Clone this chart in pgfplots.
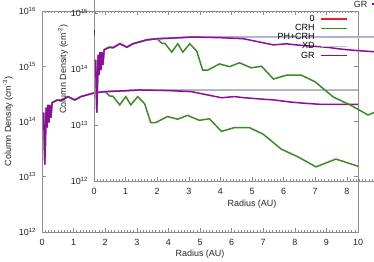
\documentclass[border=0pt]{standalone}
\usepackage{fontspec}
\setmainfont{Liberation Sans}
\usepackage{pgfplots}
\pgfplotsset{compat=1.18}
\usepackage{pgfplotstable}

\definecolor{cred}{HTML}{E8202A}
\definecolor{cgreen}{HTML}{3A8C25}
\definecolor{cblue}{HTML}{9FB4E6}
\definecolor{cgray}{HTML}{C4C4C4}
\definecolor{cxd}{HTML}{B2BACB}
\definecolor{cpurple}{HTML}{8E0E9A}
\definecolor{axgray}{HTML}{8C8C8C}

\pgfplotstableread{
x y
0.05 1.45e14
0.09 1.66e13
0.13 1.78e14
0.16 7.76e13
0.19 2.00e14
0.22 9.55e13
0.25 2.00e14
0.28 1.17e14
0.32 2.19e14
0.41 2.34e14
0.50 2.45e14
0.60 2.40e14
0.82 2.82e14
1.04 2.45e14
1.23 2.82e14
1.67 3.31e14
1.99 3.47e14
2.40 3.55e14
3.10 3.72e14
3.97 3.63e14
4.73 3.47e14
5.68 2.69e14
6.09 2.82e14
6.40 2.69e14
6.85 2.57e14
7.35 2.45e14
7.89 2.24e14
8.30 2.14e14
8.83 2.04e14
9.30 2.04e14
10.0 2.04e14
}\grdata

\pgfplotstableread{
x y
0.05 1.45e14
0.09 1.66e13
0.13 1.78e14
0.16 7.76e13
0.19 2.00e14
0.22 9.55e13
0.25 2.00e14
0.28 1.17e14
0.32 2.19e14
0.41 2.34e14
0.50 2.45e14
0.60 2.40e14
0.82 2.82e14
1.04 2.45e14
1.23 2.82e14
1.67 3.31e14
1.99 3.47e14
2.40 3.55e14
3.10 3.72e14
10.0 3.72e14
}\xddata

\pgfplotstableread{
x y
0.05 1.45e14
0.09 1.66e13
0.13 1.78e14
0.16 7.76e13
0.19 2.00e14
0.22 9.55e13
0.25 2.00e14
0.28 1.17e14
0.32 2.19e14
0.41 2.34e14
0.50 2.45e14
0.60 2.40e14
0.82 2.82e14
1.04 2.45e14
1.23 2.82e14
1.67 3.31e14
1.99 3.47e14
2.15 2.88e14
2.24 2.88e14
2.46 2.00e14
2.65 2.82e14
2.81 2.00e14
3.03 2.82e14
3.25 2.09e14
3.44 9.55e13
3.60 9.55e13
3.97 1.23e14
4.29 1.10e14
4.60 1.29e14
4.98 1.05e14
5.30 1.12e14
5.68 6.61e13
6.09 7.76e13
6.56 7.76e13
7.00 5.89e13
7.57 3.16e13
8.10 2.29e13
8.67 1.51e13
9.30 2.09e13
10.0 1.55e13
}\crhdata

\pgfplotsset{
  every tick/.style={axgray, line width=0.6bp},
}

\begin{document}
\begin{tikzpicture}[x=1bp,y=1bp]
\path[use as bounding box] (0,0) rectangle (374,262);
\clip (0,0) rectangle (374,262);

% outer plot
\begin{axis}[at={(42bp,30bp)}, anchor=south west,
  scale only axis, width=316bp, height=221bp,
  xmin=0, xmax=10, ymode=log, log basis y=10, ymin=1e12, ymax=1e16,
  axis line style={axgray, line width=0.9bp},
  major tick length=4bp, minor tick length=2bp,
  xtick={0,1,...,10}, minor x tick num=9,
  ytick={1e12,1e13,1e14,1e15,1e16},
  tick label style={font=\fontsize{9}{10}\selectfont, text=black!85},
  label style={font=\fontsize{9}{10}\selectfont, text=black!85},
  xticklabels={0,1,2,3,4,5,6,7,8,9,10},
  yticklabels={10\textsuperscript{12},10\textsuperscript{13},10\textsuperscript{14},10\textsuperscript{15},10\textsuperscript{16}},
  xticklabel style={yshift=-4bp},
  yticklabel style={xshift=-2.5bp},
  no markers,
  xlabel={Radius (AU)},
  ylabel={Column Density (cm\textsuperscript{-3})},
  xlabel style={at={(axis description cs:0.5,-0.0995)}, anchor=center},
  ylabel style={at={(axis description cs:-0.1076,0.5)}, anchor=center}]
\addplot[cred, line width=1.2bp] table[x=x,y=y]{\xddata};
\addplot[cgreen, line width=1.5bp] table[x=x,y=y]{\crhdata};
\addplot[cblue, line width=1.5bp] table[x=x,y=y]{\xddata};
\addplot[cxd, line width=1.5bp] table[x=x,y=y]{\xddata};
\addplot[cpurple, line width=1.5bp] table[x=x,y=y]{\grdata};
\end{axis}

% inset plot
\begin{axis}[at={(94bp,81bp)}, anchor=south west,
  scale only axis, width=316bp, height=224bp,
  xmin=0, xmax=10, ymode=log, log basis y=10, ymin=1e12, ymax=1e16,
  axis line style={axgray, line width=0.9bp},
  major tick length=4bp, minor tick length=2bp,
  xtick={0,1,...,10}, minor x tick num=9,
  ytick={1e12,1e13,1e14,1e15,1e16},
  tick label style={font=\fontsize{9}{10}\selectfont, text=black!85},
  label style={font=\fontsize{9}{10}\selectfont, text=black!85},
  xticklabels={0,1,2,3,4,5,6,7,8,{},{}},
  yticklabels={10\textsuperscript{12},10\textsuperscript{13},10\textsuperscript{14},10\textsuperscript{15},{}},
  xticklabel style={yshift=-4bp},
  yticklabel style={xshift=-2.5bp},
  no markers,
  xlabel={Radius (AU)},
  ylabel={Column Density (cm\textsuperscript{-2})},
  xlabel style={at={(axis description cs:0.5,-0.1027)}, anchor=center},
  ylabel style={at={(axis description cs:-0.0981,0.5)}, anchor=center},
  legend image post style={xscale=1.53},
  legend style={at={(axis description cs:0.8028,0.7437)}, anchor=north east,
    draw=none, fill=none, inner xsep=0pt, inner ysep=0pt, column sep=4.6bp,
    nodes={inner sep=0.7bp, text depth=0.15em},
    font=\fontsize{9}{10}\selectfont},
  legend cell align=right, legend plot pos=right]
\addlegendimage{cred, line width=1.5bp}
\addlegendentry{0}
\addlegendimage{cgreen, line width=1.5bp}
\addlegendentry{CRH}
\addlegendimage{cblue, line width=1.5bp}
\addlegendentry{PH+CRH}
\addlegendimage{cgray, line width=1.5bp}
\addlegendentry{XD}
\addlegendimage{cpurple, line width=1.5bp}
\addlegendentry{GR}
\addplot[cred, line width=1.2bp, forget plot] table[x=x,y=y]{\xddata};
\addplot[cgreen, line width=1.5bp, forget plot] table[x=x,y=y]{\crhdata};
\addplot[cblue, line width=1.5bp, forget plot] table[x=x,y=y]{\xddata};
\addplot[cxd, line width=1.5bp, forget plot] table[x=x,y=y]{\xddata};
\addplot[cpurple, line width=1.5bp, forget plot] table[x=x,y=y]{\grdata};
\node[font=\fontsize{9}{10}\selectfont, text=black!85] at (axis description cs:-0.0348,0.6607) {N(CN)};
\end{axis}

\node[anchor=base east, font=\fontsize{9}{10}\selectfont, text=black!85, inner sep=0pt] at (367.5,254.8) {GR};
\draw[cpurple, line width=1.5bp] (372,258) -- (400,258);
\end{tikzpicture}
\end{document}
